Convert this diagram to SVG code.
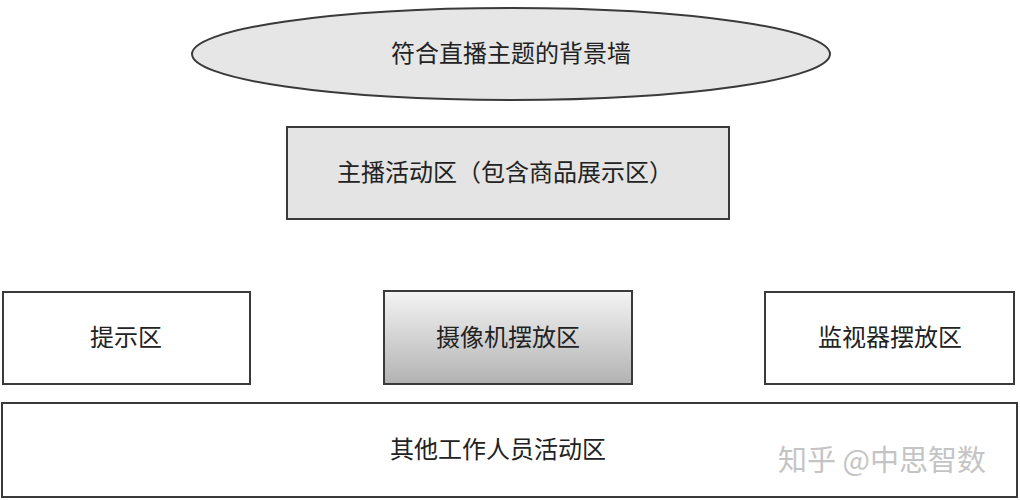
<svg xmlns="http://www.w3.org/2000/svg" width="1020" height="500" viewBox="0 0 1020 500">
<style>
.s{stroke:#3a3a3a;stroke-width:2}
.t{font-family:"Liberation Serif","Noto Sans CJK SC",serif;font-size:24px;fill:#222222;text-anchor:middle;dominant-baseline:central}
.w{font-family:"Noto Sans CJK SC",sans-serif;font-size:29px;fill:#c4c4c4;text-anchor:start;dominant-baseline:central}
</style>
<defs>
<linearGradient id="g" x1="0" y1="0" x2="0" y2="1">
<stop offset="0" stop-color="#f4f4f4"/>
<stop offset="1" stop-color="#b2b2b2"/>
</linearGradient>
</defs>
<rect width="1020" height="500" fill="#ffffff"/>
<g id="wall">
<ellipse class="s" cx="511" cy="54" rx="319" ry="46" fill="#e6e6e6"/>
<text class="t" x="511" y="54">符合直播主题的背景墙</text>
</g>
<g id="host">
<rect class="s" x="287" y="127" width="442" height="92" fill="#e4e4e4"/>
<text class="t" x="505" y="173">主播活动区（包含商品展示区）</text>
</g>
<g id="prompt">
<rect class="s" x="3" y="292" width="247" height="92" fill="#ffffff"/>
<text class="t" x="126" y="338">提示区</text>
</g>
<g id="camera">
<rect class="s" x="384" y="291" width="248" height="93" fill="url(#g)"/>
<text class="t" x="508" y="338">摄像机摆放区</text>
</g>
<g id="monitor">
<rect class="s" x="765" y="292" width="249" height="92" fill="#ffffff"/>
<text class="t" x="890" y="338">监视器摆放区</text>
</g>
<g id="staff">
<rect class="s" x="2" y="403" width="1015" height="94" fill="#ffffff"/>
<text class="t" x="498" y="450">其他工作人员活动区</text>
</g>
<g id="connectors"></g>
<text class="w" x="778" y="458">知乎 @中思智数</text>
</svg>
